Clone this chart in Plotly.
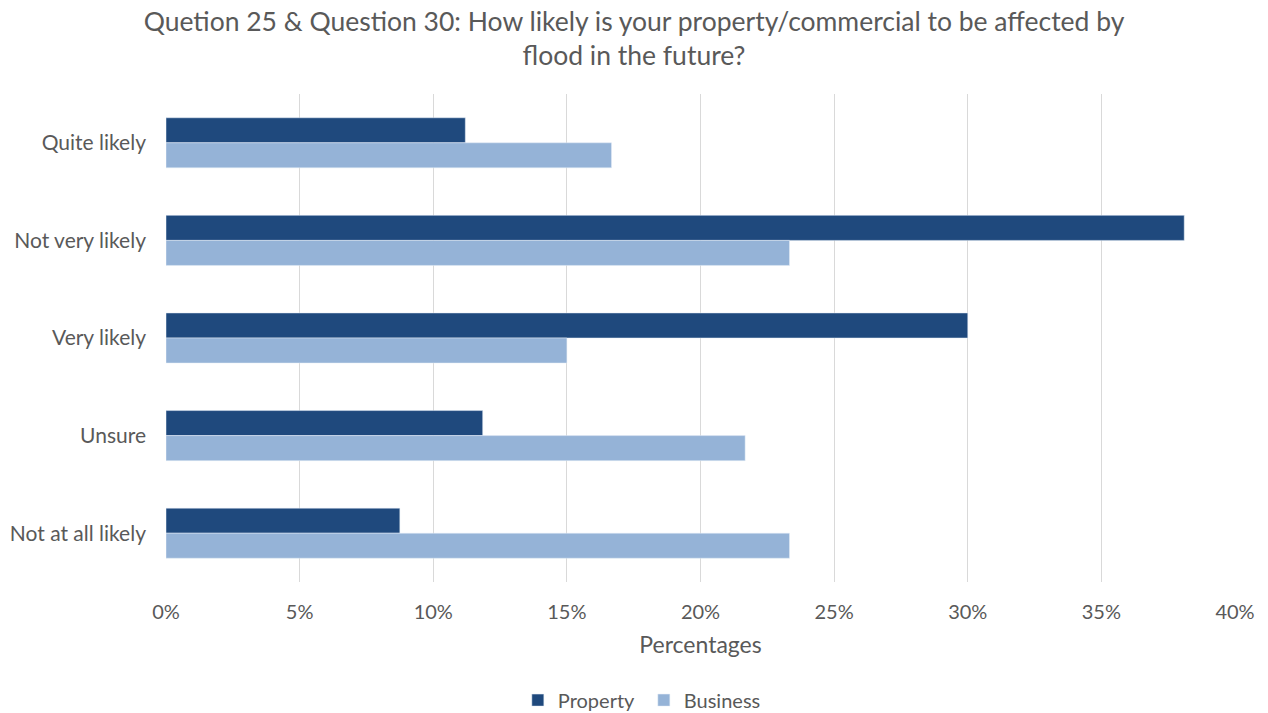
import plotly.graph_objects as go

categories = ["Quite likely", "Not very likely", "Very likely", "Unsure", "Not at all likely"]
property_pct = [11.2, 38.1, 30.0, 11.85, 8.75]
business_pct = [16.67, 23.33, 15.0, 21.67, 23.33]
tick_vals = [0, 5, 10, 15, 20, 25, 30, 35, 40]
tick_text = ["0%", "5%", "10%", "15%", "20%", "25%", "30%", "35%", "40%"]

FONT = "Lato, 'Open Sans', sans-serif"
GREY = "#595959"

fig = go.Figure()
fig.add_trace(go.Bar(name="Property", y=categories, x=property_pct, orientation="h",
                     marker=dict(color="#1F497D")))
fig.add_trace(go.Bar(name="Business", y=categories, x=business_pct, orientation="h",
                     marker=dict(color="#95B3D7")))

fig.update_layout(
    width=1268, height=713,
    paper_bgcolor="white", plot_bgcolor="white",
    margin=dict(l=166, r=33, t=94, b=131, autoexpand=False),
    barmode="group", bargap=0.487, bargroupgap=0,
    title=dict(text="Quetion 25 & Question 30: How likely is your property/commercial to be affected by<br>flood in the future?",
               x=0.5, xanchor="center", y=1 - 31 / 713, yanchor="middle",
               font=dict(family=FONT, size=26.5, color=GREY)),
    font=dict(family=FONT, color=GREY),
    legend=dict(orientation="h", x=0.447, xanchor="center", y=-0.242, yanchor="middle",
                font=dict(size=20, color=GREY), traceorder="normal",
                itemwidth=30, entrywidth=81, entrywidthmode="pixels"),
    showlegend=True,
)
fig.update_xaxes(range=[0, 40], tickvals=tick_vals, ticktext=tick_text, automargin=False,
                 showgrid=True, gridcolor="#D9D9D9", gridwidth=1, zeroline=False,
                 showline=False, tickfont=dict(size=20, color=GREY),
                 title=dict(text="Percentages", font=dict(size=23, color=GREY), standoff=14),
                 ticklabelstandoff=16)
fig.update_yaxes(autorange="reversed", showgrid=False, showline=False, automargin=False,
                 tickfont=dict(size=21, color=GREY), ticklabelstandoff=19)

fig.write_html("out.html", config={"displayModeBar": False},
               post_script="document.body.style.margin='0';document.body.style.overflow='hidden';")
